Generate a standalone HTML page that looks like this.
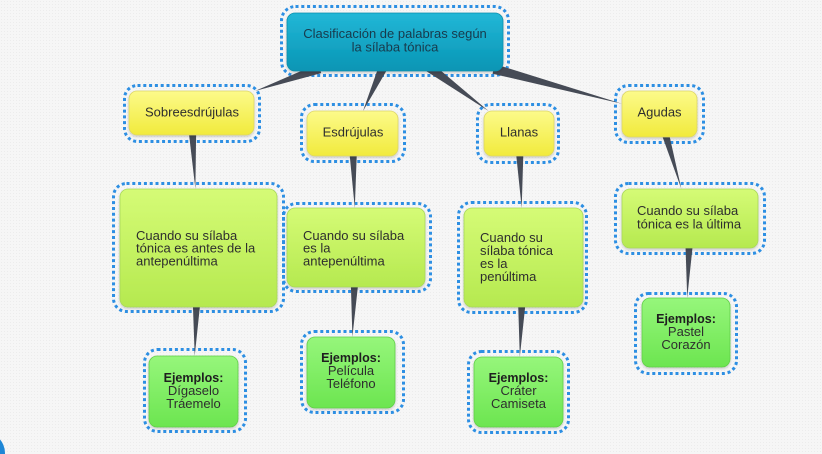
<!DOCTYPE html>
<html>
<head>
<meta charset="utf-8">
<style>
  html, body { margin: 0; padding: 0; }
  body { width: 822px; height: 454px; overflow: hidden; background: #f5f5f5; }
  svg { display: block; }
  text { font-family: "Liberation Sans", "DejaVu Sans", sans-serif; font-size: 13px; fill: #2e2e2e; }
  .root-t { fill: #183a4c; }
  .b { font-weight: bold; font-size: 12.5px; fill: #1f1f1f; }
</style>
</head>
<body>
<svg width="822" height="454" viewBox="0 0 822 454" xmlns="http://www.w3.org/2000/svg">
  <defs>
    <pattern id="dots" width="3" height="3" patternUnits="userSpaceOnUse">
      <rect width="3" height="3" fill="#f6f6f6"/>
      <rect x="1" y="1" width="1" height="1" fill="#ececec"/>
    </pattern>
    <linearGradient id="gc" x1="0" y1="0" x2="0" y2="1">
      <stop offset="0" stop-color="#23b7d7"/>
      <stop offset="1" stop-color="#0795b4"/>
    </linearGradient>
    <linearGradient id="gy" x1="0" y1="0" x2="0" y2="1">
      <stop offset="0" stop-color="#fcfa8a"/>
      <stop offset="1" stop-color="#f1ea3c"/>
    </linearGradient>
    <linearGradient id="gl" x1="0" y1="0" x2="0" y2="1">
      <stop offset="0" stop-color="#d5fb76"/>
      <stop offset="1" stop-color="#b5e94f"/>
    </linearGradient>
    <linearGradient id="gg" x1="0" y1="0" x2="0" y2="1">
      <stop offset="0" stop-color="#96f67b"/>
      <stop offset="1" stop-color="#6ce550"/>
    </linearGradient>
    <filter id="sh" x="-10%" y="-10%" width="120%" height="130%">
      <feDropShadow dx="0" dy="1.5" stdDeviation="1.2" flood-color="#000" flood-opacity="0.18"/>
    </filter>
  </defs>

  <rect width="822" height="454" fill="url(#dots)"/>

  <!-- bottom-left blue circle -->
  <circle cx="-16" cy="453" r="21" fill="#1f87d6"/>

  <!-- dotted outlines -->
  <g fill="none" stroke="#2d8fe3" stroke-width="3" stroke-dasharray="3 2.8">
    <rect x="281.5" y="6.5" width="227" height="69" rx="14"/>
    <rect x="124.5" y="85.5" width="135" height="56" rx="13"/>
    <rect x="301.5" y="104.5" width="103" height="57" rx="13"/>
    <rect x="477.5" y="104.5" width="81" height="58" rx="13"/>
    <rect x="615.5" y="85.5" width="88" height="57" rx="13"/>
    <rect x="113.5" y="183.5" width="170" height="128" rx="13"/>
    <rect x="283.5" y="203.5" width="147" height="88" rx="13"/>
    <rect x="458.5" y="202.5" width="128" height="110" rx="13"/>
    <rect x="615.5" y="183.5" width="149" height="70" rx="13"/>
    <rect x="144.5" y="349.5" width="101" height="82" rx="13"/>
    <rect x="301.5" y="331.5" width="102" height="81" rx="13"/>
    <rect x="468.5" y="351.5" width="100" height="81" rx="13"/>
    <rect x="635.5" y="293.5" width="101" height="80" rx="13"/>
  </g>

  <!-- tapered connectors -->
  <g fill="#464b56">
    <polygon points="321.3,73.1 317.9,63.7 255,91"/>
    <polygon points="389.4,65.8 380.4,61.6 363,111"/>
    <polygon points="424.9,70.2 430.9,62.2 488.5,111"/>
    <polygon points="492.5,73.7 495.1,64.1 622,103.8"/>
    <polygon points="196.2,126.8 188.2,127.2 195.4,189"/>
    <polygon points="357,148 349,148 354.8,208"/>
    <polygon points="523.5,148 515.5,148 521.7,208"/>
    <polygon points="667.8,128.2 660.2,130.4 681.4,189"/>
    <polygon points="200.7,299 192.7,299 194.7,356"/>
    <polygon points="358.7,279 350.7,279 352.4,337"/>
    <polygon points="526,299 518,299 519.8,357"/>
    <polygon points="693.3,240 685.3,240 687.2,298"/>
  </g>

  <!-- boxes -->
  <g filter="url(#sh)">
    <rect x="287" y="13" width="216" height="58" rx="8" fill="url(#gc)" stroke="#0a8fae" stroke-width="0.8"/>
    <rect x="129" y="91" width="125" height="44" rx="8" fill="url(#gy)" stroke="#ddd66a" stroke-width="0.8"/>
    <rect x="307" y="111" width="91" height="45" rx="8" fill="url(#gy)" stroke="#ddd66a" stroke-width="0.8"/>
    <rect x="484" y="111" width="70" height="45" rx="8" fill="url(#gy)" stroke="#ddd66a" stroke-width="0.8"/>
    <rect x="622" y="91" width="75" height="46" rx="8" fill="url(#gy)" stroke="#ddd66a" stroke-width="0.8"/>
    <rect x="120" y="189" width="157" height="118" rx="8" fill="url(#gl)" stroke="#a9d85c" stroke-width="0.8"/>
    <rect x="287" y="208" width="138" height="79" rx="8" fill="url(#gl)" stroke="#a9d85c" stroke-width="0.8"/>
    <rect x="464" y="208" width="119" height="99" rx="8" fill="url(#gl)" stroke="#a9d85c" stroke-width="0.8"/>
    <rect x="622" y="189" width="136" height="59" rx="8" fill="url(#gl)" stroke="#a9d85c" stroke-width="0.8"/>
    <rect x="149" y="356" width="89" height="71" rx="8" fill="url(#gg)" stroke="#62cf4a" stroke-width="0.8"/>
    <rect x="307" y="337" width="88" height="71" rx="8" fill="url(#gg)" stroke="#62cf4a" stroke-width="0.8"/>
    <rect x="474" y="357" width="89" height="70" rx="8" fill="url(#gg)" stroke="#62cf4a" stroke-width="0.8"/>
    <rect x="642" y="298" width="88" height="69" rx="8" fill="url(#gg)" stroke="#62cf4a" stroke-width="0.8"/>
  </g>

  <!-- labels -->
  <g text-anchor="middle">
    <text class="root-t" x="395" y="38">Clasificación de palabras según</text>
    <text class="root-t" x="395" y="51.5">la sílaba tónica</text>
    <text x="192" y="116.5">Sobreesdrújulas</text>
    <text x="353" y="136.5">Esdrújulas</text>
    <text x="519" y="136.5">Llanas</text>
    <text x="659.5" y="116.5">Agudas</text>
  </g>

  <g>
    <text x="136" y="240">Cuando su sílaba</text>
    <text x="136" y="252.7">tónica es antes de la</text>
    <text x="136" y="265.4">antepenúltima</text>

    <text x="303" y="240">Cuando su sílaba</text>
    <text x="303" y="252.7">es la</text>
    <text x="303" y="265.4">antepenúltima</text>

    <text x="480" y="242">Cuando su</text>
    <text x="480" y="255">sílaba tónica</text>
    <text x="480" y="268">es la</text>
    <text x="480" y="281">penúltima</text>

    <text x="637" y="215">Cuando su sílaba</text>
    <text x="637" y="228.3">tónica es la última</text>
  </g>

  <g text-anchor="middle">
    <text class="b" x="193.5" y="382">Ejemplos:</text>
    <text x="193.5" y="395">Dígaselo</text>
    <text x="193.5" y="408">Tráemelo</text>

    <text class="b" x="351" y="362">Ejemplos:</text>
    <text x="351" y="375">Película</text>
    <text x="351" y="388">Teléfono</text>

    <text class="b" x="518.5" y="382">Ejemplos:</text>
    <text x="518.5" y="395">Cráter</text>
    <text x="518.5" y="408">Camiseta</text>

    <text class="b" x="686" y="323">Ejemplos:</text>
    <text x="686" y="336">Pastel</text>
    <text x="686" y="349">Corazón</text>
  </g>
</svg>
</body>
</html>
